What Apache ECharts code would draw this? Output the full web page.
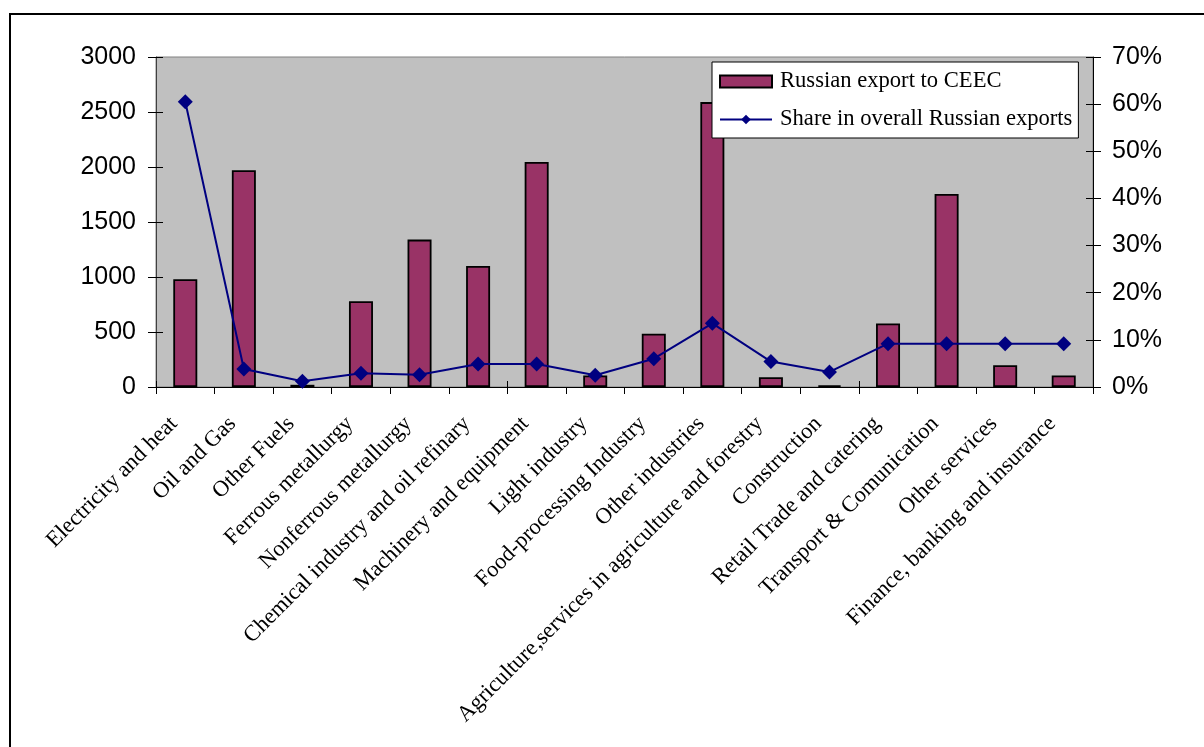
<!DOCTYPE html>
<html>
<head>
<meta charset="utf-8">
<script src="https://cdn.jsdelivr.net/npm/echarts@6/dist/echarts.min.js"></script>
<style>html,body{margin:0;padding:0;background:#fff;}#c{width:1204px;height:747px;}</style>
</head>
<body>
<div id="c"></div>
<script>
const categories = ["Electricity and heat","Oil and Gas","Other Fuels","Ferrous metallurgy","Nonferrous metallurgy","Chemical industry and oil refinary","Machinery and equipment","Light industry","Food-processing Industry","Other industries","Agriculture,services in agriculture and forestry","Construction","Retail Trade and catering","Transport & Comunication","Other services","Finance, banking and insurance"];
const exportValues = [980, 1970, 20, 780, 1340, 1100, 2045, 105, 485, 2590, 88, 15, 577, 1755, 198, 105];
const shareValues = [60.5, 3.8, 1.2, 2.9, 2.6, 4.9, 4.9, 2.5, 6.0, 13.5, 5.4, 3.2, 9.2, 9.2, 9.2, 9.2];
const leftTicks = [0, 3000, 500];
const rightTicks = [0, 70, 10];

const chart = echarts.init(document.getElementById('c'));
const sans = 'Liberation Sans, Arial, sans-serif';
const serif = 'Liberation Serif, Times New Roman, serif';
chart.setOption({
  animation: false,
  backgroundColor: '#fff',
  graphic: [{
    type: 'rect', shape: {x: 10, y: 14, width: 1400, height: 1000},
    style: {fill: 'none', stroke: '#000', lineWidth: 2}, z: -1
  }],
  grid: {left: 156, top: 57, right: 111, bottom: 360, show: true, backgroundColor: '#c0c0c0', borderColor: '#808080', borderWidth: 1},
  legend: {
    orient: 'vertical', left: 712, top: 62,
    backgroundColor: '#fff', borderColor: '#000', borderWidth: 1,
    padding: [8, 6, 7, 7], itemGap: 15, itemWidth: 52, itemHeight: 12,
    textStyle: {fontFamily: serif, fontSize: 22.6, color: '#000', padding: [0, 0, 0, 3]},
    data: [{name: 'Russian export to CEEC', icon: 'rect'}, {name: 'Share in overall Russian exports'}]
  },
  xAxis: [{
    type: 'category', data: categories, position: 'bottom',
    axisLine: {lineStyle: {color: '#000', width: 1}},
    axisTick: {show: true, length: 7, lineStyle: {color: '#000'}},
    axisLabel: {interval: 0, rotate: 45, margin: 22, fontFamily: serif, fontSize: 22.5, color: '#000', padding: [0, 16, 0, 0]}
  }, {
    type: 'category', data: categories, position: 'bottom',
    axisLine: {show: false},
    axisTick: {show: true, inside: true, length: 6, lineStyle: {color: '#000'}},
    axisLabel: {show: false}
  }],
  yAxis: [{
    type: 'value', min: leftTicks[0], max: leftTicks[1], interval: leftTicks[2], position: 'left',
    axisLine: {show: true, lineStyle: {color: '#404040'}},
    axisTick: {show: true, length: 8, lineStyle: {color: '#000'}},
    splitLine: {show: false},
    axisLabel: {margin: 20, fontFamily: sans, fontSize: 25, color: '#000', formatter: v => String(v)}
  }, {
    type: 'value', min: rightTicks[0], max: rightTicks[1], interval: rightTicks[2], position: 'right',
    axisLine: {show: true, lineStyle: {color: '#000'}},
    axisTick: {show: true, length: 8, lineStyle: {color: '#000'}},
    splitLine: {show: false},
    axisLabel: {margin: 19, fontFamily: sans, fontSize: 25, color: '#000', formatter: '{value}%'}
  }, {
    type: 'value', min: leftTicks[0], max: leftTicks[1], interval: leftTicks[2], position: 'left',
    axisLine: {show: false}, axisTick: {show: true, inside: true, length: 7, lineStyle: {color: '#000'}},
    splitLine: {show: false}, axisLabel: {show: false}
  }, {
    type: 'value', min: rightTicks[0], max: rightTicks[1], interval: rightTicks[2], position: 'right',
    axisLine: {show: false}, axisTick: {show: true, inside: true, length: 7, lineStyle: {color: '#000'}},
    splitLine: {show: false}, axisLabel: {show: false}
  }],
  series: [{
    name: 'Russian export to CEEC', type: 'bar', data: exportValues, xAxisIndex: 0, yAxisIndex: 0,
    barWidth: 24,
    itemStyle: {color: '#993366', borderColor: '#000', borderWidth: 1.8}
  }, {
    name: 'Share in overall Russian exports', type: 'line', data: shareValues, xAxisIndex: 0, yAxisIndex: 1,
    symbol: 'diamond', symbolSize: 15,
    lineStyle: {color: '#000080', width: 2},
    itemStyle: {color: '#000080'}, z: 5
  }]
});
</script>
</body>
</html>
